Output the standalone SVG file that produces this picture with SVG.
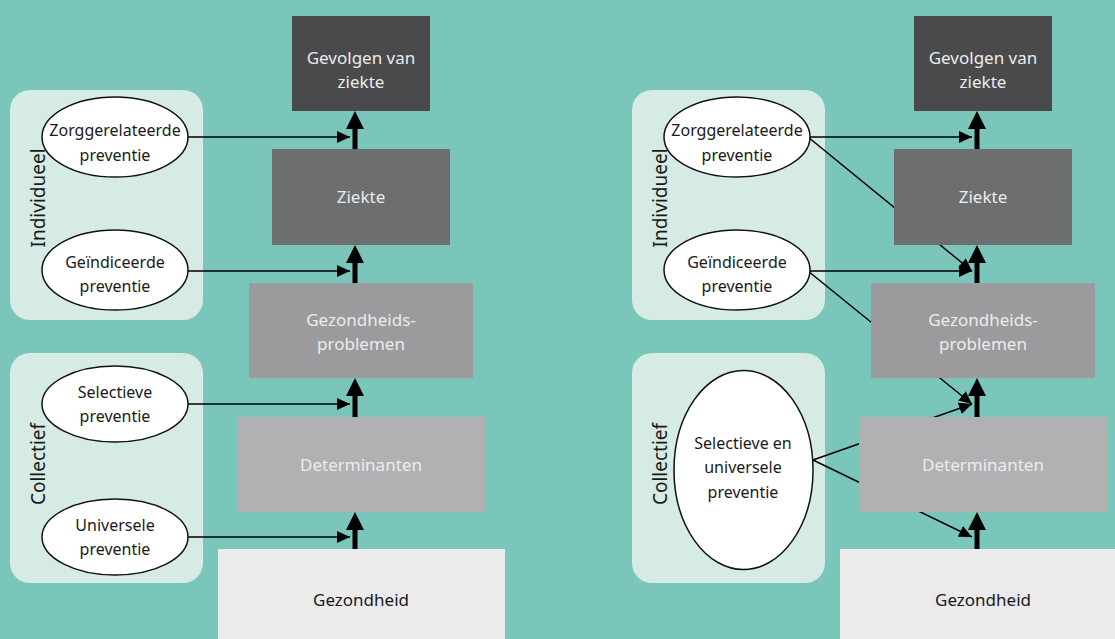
<svg xmlns="http://www.w3.org/2000/svg" width="1115" height="639" viewBox="0 0 1115 639">
<style>
.panel{fill:#d5ebe4}
.ell{fill:#fff;stroke:#111;stroke-width:1.5}
.t{font-family:"Noto Sans","Open Sans",sans-serif;font-size:16px;text-anchor:middle;dominant-baseline:central}
.b{font-size:17px}
.side{font-size:19px}
.dk{fill:#1a1a1a}
.lt{fill:#ececec}
.thin{stroke:#000;stroke-width:1.5;fill:none;marker-end:url(#ah)}
.shaft{stroke:#000;stroke-width:5;fill:none}
.head{fill:#000}
</style>
<defs>
<marker id="ah" markerWidth="13" markerHeight="12" refX="13" refY="6" orient="auto" markerUnits="userSpaceOnUse">
<path d="M0,0 L13,6 L0,12 Z" fill="#000"/>
</marker>
</defs>
<rect width="1115" height="639" fill="#7ac6bb"/>

<g id="panels">
<rect id="panel-ind-l" class="panel" x="10" y="90" width="193" height="230" rx="20"/>
<rect id="panel-col-l" class="panel" x="10" y="353" width="193" height="230" rx="20"/>
<rect id="panel-ind-r" class="panel" x="632" y="90" width="193" height="230" rx="20"/>
<rect id="panel-col-r" class="panel" x="632" y="353" width="193" height="230" rx="20"/>
<text class="t dk side" transform="translate(38,198) rotate(-90)">Individueel</text>
<text class="t dk side" transform="translate(38,464) rotate(-90)">Collectief</text>
<text class="t dk side" transform="translate(660,198) rotate(-90)">Individueel</text>
<text class="t dk side" transform="translate(660,464) rotate(-90)">Collectief</text>
</g>

<g id="connectors">
<line class="thin" x1="188" y1="137" x2="350" y2="137"/>
<line class="thin" x1="188" y1="271" x2="350" y2="271"/>
<line class="thin" x1="188" y1="404" x2="350" y2="404"/>
<line class="thin" x1="188" y1="537" x2="350" y2="537"/>
<line class="thin" x1="810" y1="137" x2="972" y2="137"/>
<line class="thin" x1="810" y1="271" x2="972" y2="271"/>
<line class="thin" x1="808" y1="137" x2="972" y2="271"/>
<line class="thin" x1="808" y1="271" x2="972" y2="404"/>
<line class="thin" x1="813" y1="460" x2="972" y2="404"/>
<line class="thin" x1="813" y1="460" x2="972" y2="537"/>
<g id="thick-l">
<line class="shaft" x1="355" y1="149" x2="355" y2="126"/>
<path class="head" d="M346,129 L355,111 L364,129 Z"/>
<line class="shaft" x1="355" y1="283" x2="355" y2="260"/>
<path class="head" d="M346,263 L355,245 L364,263 Z"/>
<line class="shaft" x1="355" y1="417" x2="355" y2="393"/>
<path class="head" d="M346,396 L355,378 L364,396 Z"/>
<line class="shaft" x1="355" y1="549" x2="355" y2="527"/>
<path class="head" d="M346,530 L355,512 L364,530 Z"/>
</g>
<g id="thick-r">
<line class="shaft" x1="977" y1="149" x2="977" y2="126"/>
<path class="head" d="M968,129 L977,111 L986,129 Z"/>
<line class="shaft" x1="977" y1="283" x2="977" y2="260"/>
<path class="head" d="M968,263 L977,245 L986,263 Z"/>
<line class="shaft" x1="977" y1="417" x2="977" y2="393"/>
<path class="head" d="M968,396 L977,378 L986,396 Z"/>
<line class="shaft" x1="977" y1="549" x2="977" y2="527"/>
<path class="head" d="M968,530 L977,512 L986,530 Z"/>
</g>
</g>

<g id="gevolgen-l"><rect x="292" y="16" width="138" height="95" fill="#4a4a4c"/><text class="t b lt" x="361" y="57">Gevolgen van</text><text class="t b lt" x="361" y="81">ziekte</text></g>
<g id="ziekte-l"><rect x="272" y="149" width="178" height="96" fill="#6d6e70"/><text class="t b lt" x="361" y="196">Ziekte</text></g>
<g id="gezondheidsproblemen-l"><rect x="249" y="283" width="224" height="95" fill="#9b9b9d"/><text class="t b lt" x="361" y="319">Gezondheids-</text><text class="t b lt" x="361" y="343">problemen</text></g>
<g id="determinanten-l"><rect x="237" y="417" width="248" height="95" fill="#b1b1b4"/><text class="t b lt" x="361" y="464">Determinanten</text></g>
<g id="gezondheid-l"><rect x="218" y="549" width="287" height="90" fill="#ebebeb"/><text class="t b dk" x="361" y="599">Gezondheid</text></g>

<g id="gevolgen-r"><rect x="914" y="16" width="138" height="95" fill="#4a4a4c"/><text class="t b lt" x="983" y="57">Gevolgen van</text><text class="t b lt" x="983" y="81">ziekte</text></g>
<g id="ziekte-r"><rect x="894" y="149" width="178" height="96" fill="#6d6e70"/><text class="t b lt" x="983" y="196">Ziekte</text></g>
<g id="gezondheidsproblemen-r"><rect x="871" y="283" width="224" height="95" fill="#9b9b9d"/><text class="t b lt" x="983" y="319">Gezondheids-</text><text class="t b lt" x="983" y="343">problemen</text></g>
<g id="determinanten-r"><rect x="859" y="417" width="248" height="95" fill="#b1b1b4"/><text class="t b lt" x="983" y="464">Determinanten</text></g>
<g id="gezondheid-r"><rect x="840" y="549" width="275" height="90" fill="#ebebeb"/><text class="t b dk" x="983" y="599">Gezondheid</text></g>

<g id="zorg-l"><ellipse class="ell" cx="115" cy="137" rx="73" ry="40"/><text class="t dk" x="115" y="130">Zorggerelateerde</text><text class="t dk" x="115" y="155">preventie</text></g>
<g id="geind-l"><ellipse class="ell" cx="115" cy="270" rx="73" ry="40"/><text class="t dk" x="115" y="262">Geïndiceerde</text><text class="t dk" x="115" y="286">preventie</text></g>
<g id="select-l"><ellipse class="ell" cx="115" cy="404" rx="73" ry="38"/><text class="t dk" x="115" y="392">Selectieve</text><text class="t dk" x="115" y="416">preventie</text></g>
<g id="univ-l"><ellipse class="ell" cx="115" cy="537" rx="73" ry="38"/><text class="t dk" x="115" y="525">Universele</text><text class="t dk" x="115" y="549">preventie</text></g>

<g id="zorg-r"><ellipse class="ell" cx="737" cy="137" rx="73" ry="40"/><text class="t dk" x="737" y="130">Zorggerelateerde</text><text class="t dk" x="737" y="155">preventie</text></g>
<g id="geind-r"><ellipse class="ell" cx="737" cy="270" rx="73" ry="40"/><text class="t dk" x="737" y="262">Geïndiceerde</text><text class="t dk" x="737" y="286">preventie</text></g>
<g id="seluni-r"><ellipse class="ell" cx="743.5" cy="470" rx="69.5" ry="99.5"/><text class="t dk" x="743" y="443">Selectieve en</text><text class="t dk" x="743" y="467">universele</text><text class="t dk" x="743" y="492">preventie</text></g>
</svg>
